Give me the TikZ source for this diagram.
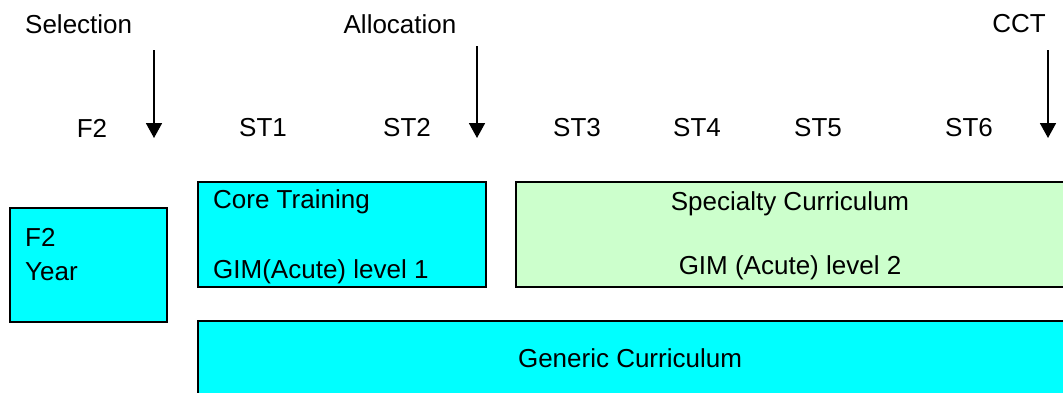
\documentclass[tikz,border=0pt]{standalone}
\usepackage{fontspec}
\setmainfont{Liberation Sans}
\usetikzlibrary{arrows.meta}
\definecolor{cyanfill}{RGB}{0,255,255}
\definecolor{greenfill}{RGB}{204,255,204}
\begin{document}
\begin{tikzpicture}[x=1pt,y=-1pt,
  lbl/.style={font=\fontsize{26}{30}\selectfont, inner sep=0pt},
  blk/.style={draw=black, line width=2pt},
  darr/.style={line width=1.8pt, -{Triangle[width=16pt,length=15pt]}}]
\useasboundingbox (0,0) rectangle (1063,392);
% top labels
\node[lbl, anchor=west] (sel) at (25,24) {Selection};
\node[lbl] (alloc) at (400,24) {Allocation};
\node[lbl, anchor=east] (cct) at (1046,24) {CCT};
% year labels
\node[lbl] (f2) at (92,128) {F2};
\node[lbl] (st1) at (263,128) {ST1};
\node[lbl] (st2) at (407,128) {ST2};
\node[lbl] (st3) at (577,128) {ST3};
\node[lbl] (st4) at (697,128) {ST4};
\node[lbl] (st5) at (818,128) {ST5};
\node[lbl] (st6) at (969,128) {ST6};
% arrows
\coordinate (a1s) at (154,50); \coordinate (a1e) at (154,138);
\coordinate (a2s) at (477,46); \coordinate (a2e) at (477,138);
\coordinate (a3s) at (1048,50); \coordinate (a3e) at (1048,138);
\draw[darr] (a1s) -- (a1e);
\draw[darr] (a2s) -- (a2e);
\draw[darr] (a3s) -- (a3e);
% boxes
\path[blk, fill=cyanfill] (10,208) rectangle (167,322);
\node[lbl, anchor=west] (f2a) at (25,237) {F2};
\node[lbl, anchor=west] (f2b) at (25,272) {Year};
\path[blk, fill=cyanfill] (198,182) rectangle (486,287);
\node[lbl, anchor=west] (core) at (213,202) {Core Training};
\node[lbl, anchor=west] (gim1) at (213,272) {GIM(Acute) level 1};
\path[blk, fill=greenfill] (516,182) rectangle (1070,287);
\node[lbl] (spec) at (790,204) {Specialty Curriculum};
\node[lbl] (gim2) at (790,268) {GIM (Acute) level 2};
\path[blk, fill=cyanfill] (198,321) rectangle (1070,400);
\node[lbl] (gen) at (630,358) {Generic Curriculum};
\end{tikzpicture}
\end{document}
